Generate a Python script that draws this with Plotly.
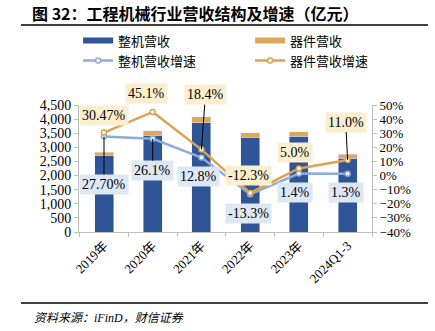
import plotly.graph_objects as go

categories = ["2019年", "2020年", "2021年", "2022年", "2023年", "2024Q1-3"]
machine_rev = [2720, 3430, 3870, 3350, 3400, 2610]
parts_rev = [110, 165, 210, 175, 150, 140]
machine_growth = [27.70, 26.1, 12.8, -13.3, 1.4, 1.3]
parts_growth = [30.47, 45.1, 18.4, -12.3, 5.0, 11.0]
machine_labels = ["27.70%", "26.1%", "12.8%", "-13.3%", "1.4%", "1.3%"]
parts_labels = ["30.47%", "45.1%", "18.4%", "-12.3%", "5.0%", "11.0%"]

# label offsets (pixels) and whether a leader line is shown
machine_off = [(0, 48), (0, 32), (-3, 19), (-2, 19), (-4, 19), (-2, 19)]
machine_leader = [True, True, False, False, False, False]
parts_off = [(0, -17), (-6, -18), (4, -55), (-2, -17), (-4, -16), (-2, -38)]
parts_leader = [False, False, True, False, False, True]

BLUE = "#2F5597"
TAN = "#DDA85C"
LBLUE = "#8FAADC"
ORANGE = "#D9A550"
SERIF = "Liberation Serif, Noto Sans CJK SC"
CJK = "Noto Sans CJK SC"

fig = go.Figure()
fig.add_trace(go.Bar(x=categories, y=machine_rev, marker_color=BLUE, width=0.39,
                     name="整机营收", showlegend=False))
fig.add_trace(go.Bar(x=categories, y=parts_rev, marker_color=TAN, width=0.39,
                     name="器件营收", showlegend=False))
fig.add_trace(go.Scatter(x=categories, y=machine_growth, yaxis="y2", mode="lines+markers",
                         line=dict(color=LBLUE, width=2.5),
                         marker=dict(symbol="circle", size=5, color="white",
                                     line=dict(color=LBLUE, width=1.5)),
                         name="整机营收增速", showlegend=False))
fig.add_trace(go.Scatter(x=categories, y=parts_growth, yaxis="y2", mode="lines+markers",
                         line=dict(color=ORANGE, width=2.5),
                         marker=dict(symbol="circle", size=5, color="white",
                                     line=dict(color=ORANGE, width=1.5)),
                         name="器件营收增速", showlegend=False))

# legend-only entries
fig.add_trace(go.Scatter(x=[None], y=[None], mode="lines", line=dict(color=BLUE, width=6),
                         name="整机营收"))
fig.add_trace(go.Scatter(x=[None], y=[None], mode="lines", line=dict(color=TAN, width=6),
                         name="器件营收"))
fig.add_trace(go.Scatter(x=[None], y=[None], mode="lines+markers", line=dict(color=LBLUE, width=2.5),
                         marker=dict(size=5, color="white", line=dict(color=LBLUE, width=1.5)),
                         name="整机营收增速"))
fig.add_trace(go.Scatter(x=[None], y=[None], mode="lines+markers", line=dict(color=ORANGE, width=2.5),
                         marker=dict(size=5, color="white", line=dict(color=ORANGE, width=1.5)),
                         name="器件营收增速"))

annotations = []
for c, v, t, (ax, ay), ld in zip(categories, machine_growth, machine_labels, machine_off, machine_leader):
    annotations.append(dict(x=c, y=v, xref="x", yref="y2", text=t, showarrow=True,
                            ax=ax, ay=ay, arrowhead=0, arrowwidth=1, standoff=0,
                            arrowcolor="black" if ld else "rgba(0,0,0,0)",
                            bgcolor="#DEE8F4", borderpad=2,
                            font=dict(family=SERIF, size=14, color="black")))
for c, v, t, (ax, ay), ld in zip(categories, parts_growth, parts_labels, parts_off, parts_leader):
    annotations.append(dict(x=c, y=v, xref="x", yref="y2", text=t, showarrow=True,
                            ax=ax, ay=ay, arrowhead=0, arrowwidth=1, standoff=0,
                            arrowcolor="black" if ld else "rgba(0,0,0,0)",
                            bgcolor="#FCEFCF", borderpad=2,
                            font=dict(family=SERIF, size=14, color="black")))
annotations.append(dict(x=-0.16, y=-0.68, xref="paper", yref="paper", xanchor="left",
                        yanchor="middle", showarrow=False,
                        text="<i>资料来源：iFinD，财信证券</i>",
                        font=dict(family=SERIF, size=12, color="black")))

fig.update_layout(
    width=435, height=331,
    margin=dict(l=79, r=63, t=105, b=99),
    paper_bgcolor="white", plot_bgcolor="white",
    barmode="stack",
    title=dict(text="<b>图 32：工程机械行业营收结构及增速（亿元）</b>",
               x=32 / 435, xanchor="left", xref="container",
               y=1 - 14 / 331, yanchor="middle", yref="container",
               font=dict(family=CJK, size=16, color="black")),
    legend=dict(orientation="h", x=-0.003, xanchor="left", y=1.625, yanchor="top",
                entrywidth=127, entrywidthmode="pixels", tracegroupgap=0,
                traceorder="normal",
                font=dict(family=CJK, size=13, color="black"),
                bgcolor="rgba(0,0,0,0)", itemwidth=30),
    xaxis=dict(type="category", tickangle=-45, tickson="boundaries", ticks="outside",
               ticklen=4, tickcolor="#BFBFBF", showline=True, linecolor="#BFBFBF",
               linewidth=1, showgrid=False,
               tickfont=dict(family=SERIF, size=13, color="black")),
    yaxis=dict(range=[0, 4500], dtick=500, tickformat=",", ticks="outside", ticklen=4,
               tickcolor="#BFBFBF", showline=True, linecolor="#BFBFBF", showgrid=False,
               zeroline=False, tickfont=dict(family=SERIF, size=14, color="black")),
    yaxis2=dict(range=[-40, 50], dtick=10, ticksuffix="%", overlaying="y", side="right",
                ticks="outside", ticklen=4, tickcolor="#BFBFBF", showline=True,
                linecolor="#BFBFBF", showgrid=False, zeroline=False,
                tickfont=dict(family=SERIF, size=13, color="black")),
    annotations=annotations,
    shapes=[
        dict(type="line", xref="paper", yref="paper", x0=-0.198, x1=1.191,
             y0=1 + 80 / 127, y1=1 + 80 / 127, line=dict(color="black", width=1.5)),
        dict(type="line", xref="paper", yref="paper", x0=-0.198, x1=1.191,
             y0=-71 / 127, y1=-71 / 127, line=dict(color="black", width=1.5)),
    ],
)

fig.write_html("out.html")
